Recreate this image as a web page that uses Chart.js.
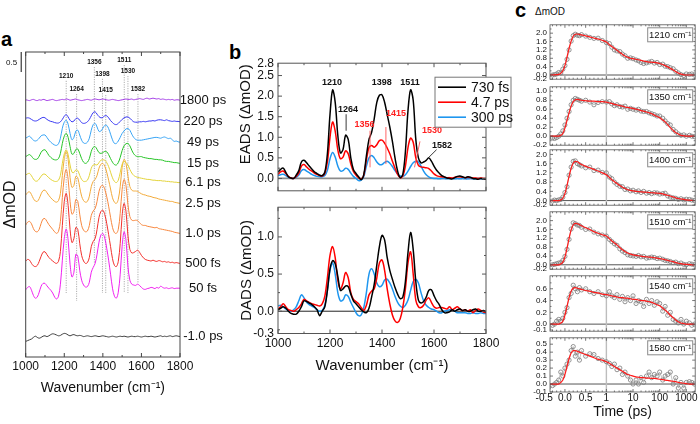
<!DOCTYPE html>
<html>
<head>
<meta charset="utf-8">
<title>Transient IR spectra, EADS/DADS and kinetics</title>
<script src="https://cdn.jsdelivr.net/npm/chart.js@4.4.1/dist/chart.umd.min.js"></script>
<style>
  html, body { margin: 0; padding: 0; background: #fff; }
  body { width: 700px; height: 424px; position: relative; overflow: hidden; font-family: "Liberation Sans", Arial, sans-serif; }
  .pane { position: absolute; }
  .pane canvas { display: block; }
  .tag { position: absolute; font-weight: bold; font-size: 20px; line-height: 20px; color: #000; }
  .unit { position: absolute; font-size: 10px; color: #111; }
</style>
</head>
<body>
<div class="tag" style="left:1px;top:29px">a</div>
<div class="tag" style="left:229px;top:42px">b</div>
<div class="tag" style="left:515px;top:0px">c</div>
<div class="unit" style="left:535px;top:6px">ΔmOD</div>
<div class="pane" style="left:0;top:0"><canvas id="spectraA" width="235" height="424"></canvas></div>
<div class="pane" style="left:228px;top:52px"><canvas id="eads" width="290" height="150"></canvas></div>
<div class="pane" style="left:228px;top:196px"><canvas id="dads" width="290" height="228"></canvas></div>
<div id="kinetics"></div>

<script>
// ---------- data: wavenumber axis (cm-1) ----------
const wavenumbers = [
  1000,1010,1020,1030,1040,1050,1060,1070,1080,1090,
  1100,1110,1120,1130,1140,1150,1160,1170,1180,1190,
  1200,1210,1220,1230,1240,1250,1260,1270,1280,1290,
  1300,1310,1320,1330,1340,1350,1360,1370,1380,1390,
  1400,1410,1420,1430,1440,1450,1460,1470,1480,1490,
  1500,1510,1520,1530,1540,1550,1560,1570,1580,1590,
  1600,1610,1620,1630,1640,1650,1660,1670,1680,1690,
  1700,1710,1720,1730,1740,1750,1760,1770,1780,1790,
  1800];

// ---------- panel a: transient spectra (mOD, relative to each trace's own baseline) ----------
const aTraceLabels = ['1800 ps', '220 ps', '49 ps', '15 ps', '6.1 ps', '2.5 ps', '1.0 ps', '500 fs', '50 fs', '-1.0 ps'];
const aOffsets = [6.42, 5.88, 5.37, 4.84, 4.36, 3.84, 3.09, 2.34, 1.72, 0.51];
const aColors = ['#a33ee6', '#3838f2', '#38a4f5', '#27c427', '#e3d33a', '#f2aa3a', '#f7873e', '#f2302c', '#f022f0', '#3c3c3c'];

const a1800ps = [
  0.01,0.00,-0.01,0.01,0.02,0.00,-0.01,0.01,0.00,0.02,
  0.01,-0.01,0.00,0.01,0.02,0.00,-0.01,0.00,0.01,0.02,
  0.01,0.03,0.02,0.00,0.01,0.02,0.03,0.01,0.00,-0.01,
  0.00,0.01,0.02,0.01,0.00,0.02,0.03,0.02,0.01,0.02,
  0.03,0.02,0.01,0.00,0.01,0.02,0.01,0.00,-0.01,0.00,
  0.01,0.02,0.03,0.02,0.02,0.03,0.01,0.02,0.03,0.04,
  0.03,0.02,0.04,0.05,0.03,0.04,0.05,0.04,0.03,0.04,
  0.02,0.03,0.02,0.01,0.02,0.01,0.02,0.00,0.01,0.01,
  0.00];
const a220ps = [
  0.09,0.10,0.09,0.06,0.03,0.02,0.03,0.06,0.09,0.11,
  0.10,0.06,0.03,0.01,0.00,-0.02,-0.03,-0.03,0.00,0.06,
  0.14,0.18,0.12,0.04,0.00,0.02,0.08,0.09,0.04,-0.02,
  -0.04,-0.03,0.00,0.06,0.15,0.23,0.25,0.19,0.13,0.10,
  0.11,0.15,0.15,0.10,0.03,-0.02,-0.06,-0.07,-0.04,0.01,
  0.06,0.10,0.12,0.12,0.09,0.04,0.00,-0.01,-0.01,0.00,
  0.00,0.01,0.00,0.01,0.02,0.02,0.03,0.02,0.04,0.05,
  0.05,0.04,0.03,0.05,0.03,0.02,0.01,0.02,0.01,0.01,
  0.00];
const a49ps = [
  0.10,0.13,0.15,0.10,0.05,0.03,0.05,0.10,0.16,0.18,
  0.18,0.12,0.05,0.00,-0.04,-0.07,-0.08,-0.04,0.10,0.35,
  0.50,0.55,0.45,0.22,0.06,0.12,0.28,0.30,0.18,0.05,
  -0.02,-0.03,0.00,0.10,0.30,0.44,0.47,0.38,0.27,0.28,
  0.35,0.42,0.42,0.34,0.20,0.06,-0.03,-0.03,0.03,0.12,
  0.22,0.28,0.33,0.34,0.30,0.20,0.12,0.07,0.05,0.05,
  0.05,0.06,0.07,0.08,0.09,0.10,0.11,0.12,0.12,0.11,
  0.10,0.12,0.13,0.11,0.09,0.10,0.06,0.02,0.03,0.01,
  0.00];
const a15ps = [
  0.17,0.20,0.22,0.18,0.12,0.10,0.11,0.18,0.28,0.33,
  0.34,0.28,0.20,0.15,0.11,0.09,0.09,0.12,0.25,0.50,
  0.68,0.75,0.65,0.42,0.23,0.25,0.35,0.36,0.25,0.12,
  0.03,0.00,0.03,0.12,0.30,0.40,0.42,0.35,0.27,0.25,
  0.27,0.30,0.29,0.22,0.12,0.03,-0.03,-0.04,0.02,0.15,
  0.32,0.44,0.49,0.50,0.44,0.33,0.24,0.19,0.17,0.17,
  0.17,0.15,0.14,0.13,0.12,0.12,0.11,0.10,0.10,0.09,
  0.09,0.08,0.06,0.05,0.05,0.04,0.03,0.02,0.02,0.01,
  0.00];
const a6p1ps = [
  0.19,0.22,0.23,0.17,0.09,0.04,0.04,0.09,0.16,0.21,
  0.21,0.17,0.12,0.08,0.05,0.03,0.03,0.06,0.18,0.48,
  0.72,0.82,0.70,0.44,0.26,0.25,0.32,0.30,0.18,0.08,
  0.03,0.03,0.06,0.18,0.36,0.44,0.45,0.44,0.50,0.56,
  0.57,0.56,0.50,0.40,0.26,0.12,0.03,0.00,0.06,0.25,
  0.46,0.53,0.50,0.44,0.33,0.24,0.18,0.15,0.13,0.12,
  0.11,0.10,0.09,0.08,0.08,0.07,0.06,0.06,0.05,0.05,
  0.05,0.04,0.04,0.03,0.03,0.02,0.02,0.01,0.01,0.00,
  0.00];
const a2p5ps = [
  0.21,0.27,0.29,0.22,0.12,0.06,0.05,0.12,0.24,0.32,
  0.33,0.27,0.20,0.14,0.09,0.05,0.03,0.07,0.25,0.70,
  1.12,1.30,1.10,0.65,0.40,0.45,0.68,0.64,0.40,0.18,
  0.07,0.03,0.05,0.18,0.42,0.55,0.60,0.70,0.88,0.98,
  1.00,0.93,0.78,0.58,0.36,0.14,0.03,0.00,0.10,0.42,
  0.90,1.10,1.00,0.68,0.42,0.33,0.31,0.31,0.30,0.27,
  0.24,0.22,0.21,0.19,0.18,0.17,0.15,0.14,0.13,0.11,
  0.10,0.09,0.08,0.07,0.06,0.05,0.05,0.03,0.02,0.01,
  0.00];
const a1p0ps = [
  0.21,0.28,0.30,0.24,0.12,0.05,0.04,0.10,0.25,0.36,
  0.37,0.30,0.22,0.16,0.10,0.04,0.00,0.05,0.30,0.90,
  1.40,1.60,1.35,0.80,0.48,0.55,0.85,0.80,0.48,0.20,
  0.08,0.04,0.06,0.20,0.45,0.56,0.62,0.80,1.05,1.18,
  1.20,1.10,0.92,0.68,0.40,0.15,0.02,0.00,0.10,0.50,
  1.10,1.35,1.20,0.72,0.42,0.33,0.32,0.33,0.32,0.27,
  0.22,0.20,0.20,0.18,0.17,0.16,0.15,0.14,0.15,0.12,
  0.11,0.10,0.09,0.08,0.07,0.06,0.05,0.03,0.02,0.01,
  0.00];
const a500fs = [
  0.06,0.10,0.08,0.00,-0.06,-0.08,-0.05,0.05,0.18,0.28,
  0.29,0.22,0.15,0.10,0.06,0.02,0.00,0.05,0.30,0.95,
  1.55,1.75,1.45,0.85,0.52,0.62,0.90,0.85,0.50,0.20,
  0.06,0.00,0.02,0.15,0.42,0.55,0.62,0.85,1.15,1.30,
  1.33,1.22,1.00,0.72,0.42,0.12,-0.05,-0.08,0.05,0.50,
  1.20,1.50,1.30,0.70,0.35,0.26,0.27,0.30,0.33,0.28,
  0.20,0.14,0.10,0.08,0.07,0.06,0.08,0.06,0.05,0.07,
  0.06,0.04,0.05,0.03,0.04,0.02,0.03,0.01,0.02,0.01,
  0.00];
const a50fs = [
  -0.04,0.02,0.04,-0.05,-0.18,-0.25,-0.22,-0.10,0.05,0.12,
  0.12,0.06,0.00,-0.05,-0.12,-0.22,-0.27,-0.20,0.10,0.70,
  1.25,1.48,1.20,0.60,0.28,0.40,0.85,0.80,0.45,0.20,
  0.08,0.03,0.04,0.15,0.40,0.52,0.62,0.85,1.15,1.33,
  1.37,1.25,1.00,0.70,0.35,0.00,-0.20,-0.25,-0.10,0.35,
  1.05,1.41,1.20,0.55,0.20,0.10,0.08,0.07,0.10,0.07,
  0.02,-0.02,-0.03,-0.01,0.00,0.02,0.01,-0.01,0.02,0.00,
  0.05,0.02,0.00,0.01,-0.01,0.00,0.01,-0.01,0.00,0.00,
  0.00];
const aMinus1ps = [
  -0.12,-0.10,-0.08,-0.06,-0.02,0.01,-0.02,-0.04,-0.02,0.01,
  0.02,0.00,0.02,0.05,0.07,0.06,0.04,0.02,0.03,0.06,
  0.08,0.07,0.04,0.02,0.04,0.05,0.03,0.02,0.03,0.02,
  0.00,0.01,0.02,0.01,0.00,0.01,0.02,0.01,0.00,0.01,
  0.02,0.01,0.00,-0.01,0.00,0.01,0.00,-0.01,0.00,0.01,
  0.00,0.01,0.00,-0.01,0.00,0.01,0.00,0.00,0.01,0.00,
  -0.01,0.00,0.01,0.00,0.00,0.01,0.00,-0.01,0.00,0.01,
  0.02,0.00,0.01,0.00,0.01,0.02,0.00,0.01,0.02,0.01,
  0.00];
const aSpectra = [a1800ps, a220ps, a49ps, a15ps, a6p1ps, a2p5ps, a1p0ps, a500fs, a50fs, aMinus1ps];

const aPeakWn = [1210, 1264, 1356, 1398, 1415, 1511, 1530, 1582];
const aPeakLabelAt = [7.03, 6.70, 7.375, 7.08, 6.675, 7.425, 7.15, 6.70];
const aPeakLineEnd = [1.6, 1.4, 2.35, 1.6, 1.6, 1.6, 1.6, 1.85];

// ---------- panel b: EADS and DADS (mOD) ----------
const compLabels = ['730 fs', '4.7 ps', '300 ps'];
const compColors = ['#000000', '#ff0000', '#1e96ef'];

const eads730fs = [
  0.15,0.22,0.25,0.15,0.04,0.01,0.00,0.08,0.19,0.40,
  0.44,0.38,0.30,0.23,0.16,0.12,0.08,0.07,0.15,0.60,
  1.55,2.15,1.85,1.05,0.62,0.70,1.05,0.95,0.50,0.22,
  0.12,0.04,-0.03,0.10,0.55,0.95,1.12,1.45,1.85,2.02,
  2.03,1.85,1.55,1.25,0.90,0.50,0.18,0.02,0.10,0.65,
  1.65,2.15,1.90,0.95,0.50,0.38,0.40,0.44,0.50,0.42,
  0.30,0.20,0.13,0.07,0.04,0.01,0.00,-0.01,0.02,0.05,
  0.06,0.04,0.02,0.04,0.03,0.00,-0.01,-0.02,0.00,-0.01,
  -0.02];
const eads4p7ps = [
  0.10,0.16,0.18,0.12,0.05,0.01,0.00,0.05,0.13,0.30,
  0.34,0.28,0.22,0.18,0.13,0.10,0.07,0.06,0.12,0.40,
  1.00,1.37,1.15,0.70,0.48,0.52,0.67,0.60,0.35,0.17,
  0.08,0.02,-0.02,0.08,0.45,0.75,0.80,0.76,0.82,0.92,
  0.93,0.86,0.74,0.60,0.42,0.25,0.10,0.02,0.06,0.30,
  0.75,0.98,0.88,0.50,0.32,0.28,0.27,0.26,0.24,0.18,
  0.11,0.07,0.05,0.04,0.03,0.02,0.02,0.01,0.03,0.04,
  0.04,0.03,0.02,0.03,0.02,0.01,0.01,0.00,0.01,0.00,
  0.00];
const eads300ps = [
  0.07,0.09,0.10,0.07,0.03,0.01,0.00,0.03,0.08,0.19,
  0.22,0.18,0.14,0.10,0.07,0.05,0.04,0.04,0.07,0.20,
  0.48,0.63,0.52,0.30,0.18,0.19,0.25,0.22,0.13,0.05,
  0.00,-0.05,-0.04,0.05,0.30,0.50,0.56,0.50,0.40,0.34,
  0.34,0.39,0.42,0.37,0.29,0.19,0.11,0.06,0.05,0.09,
  0.18,0.29,0.38,0.42,0.40,0.30,0.18,0.09,0.04,0.01,
  0.00,0.00,-0.01,0.00,0.00,-0.01,0.00,0.00,-0.01,0.00,
  -0.01,0.00,-0.01,-0.01,0.00,-0.01,-0.01,0.00,-0.01,-0.01,
  -0.01];
const dads730fs = [
  0.02,0.04,0.06,0.04,0.00,-0.03,-0.04,-0.04,0.00,0.06,
  0.14,0.13,0.11,0.09,0.06,0.02,-0.06,0.00,0.06,0.28,
  0.57,0.68,0.64,0.47,0.28,0.30,0.34,0.33,0.23,0.14,
  0.10,0.06,0.02,-0.01,-0.02,0.04,0.19,0.36,0.62,0.87,
  1.02,0.96,0.72,0.55,0.43,0.32,0.23,0.17,0.19,0.40,
  0.79,1.06,0.83,0.40,0.15,0.11,0.13,0.19,0.28,0.29,
  0.21,0.14,0.09,0.02,-0.02,-0.02,-0.01,0.02,0.00,0.02,
  0.03,0.01,0.02,0.00,0.00,0.02,0.03,0.00,0.00,0.01,
  -0.01];
const dads4p7ps = [
  0.03,0.06,0.10,0.06,0.02,0.01,0.00,0.02,0.05,0.10,
  0.16,0.14,0.12,0.10,0.09,0.08,0.07,0.10,0.20,0.45,
  0.75,0.87,0.72,0.42,0.30,0.38,0.52,0.45,0.25,0.16,
  0.13,0.10,0.05,0.01,0.08,0.22,0.27,0.30,0.45,0.65,
  0.69,0.55,0.30,0.10,-0.05,-0.13,-0.15,-0.10,0.05,0.30,
  0.65,0.80,0.50,0.15,0.06,0.05,0.08,0.15,0.18,0.12,
  0.06,0.04,0.05,0.05,0.04,0.03,0.06,0.02,0.04,0.06,
  0.03,0.01,0.02,0.00,0.02,-0.02,0.01,0.03,0.01,-0.01,
  -0.02];
const dads300ps = [
  0.07,0.08,0.06,0.03,0.01,0.00,0.02,0.06,0.14,0.22,
  0.18,0.12,0.09,0.07,0.05,0.02,0.00,0.01,0.08,0.28,
  0.55,0.65,0.50,0.25,0.14,0.15,0.22,0.20,0.12,0.05,
  -0.02,-0.06,-0.05,0.05,0.25,0.50,0.57,0.50,0.38,0.33,
  0.35,0.42,0.43,0.38,0.30,0.20,0.12,0.07,0.05,0.08,
  0.15,0.28,0.40,0.43,0.38,0.25,0.14,0.08,0.05,0.03,
  0.02,0.00,-0.02,-0.02,0.00,0.01,0.02,0.02,0.00,-0.02,
  -0.02,-0.02,-0.02,-0.03,-0.03,-0.02,-0.03,-0.03,-0.02,-0.03,
  -0.03];

const eadsNoteText = ['1210', '1264', '1398', '1511', '1356', '1415', '1530', '1582'];
const eadsNoteWn = [1208, 1269, 1399, 1508, 1333, 1454, 1592, 1631];
const eadsNoteVal = [2.34, 1.68, 2.34, 2.34, 1.31, 1.58, 1.16, 0.81];
const eadsNoteRed = [false, false, false, false, true, true, true, false];
// leader lines: [wn1, val1, wn2, val2, red?]
const eadsLeaders = [
  [1262, 1.56, 1262, 1.16, false],
  [1354, 1.16, 1354, 0.27, true],
  [1415, 1.25, 1415, 0.35, true],
  [1546, 0.90, 1525, 0.27, true],
  [1610, 0.70, 1578, 0.50, false]];

// ---------- panel c: kinetics ----------
const cTimes = [
  -0.5,-0.4,-0.3,-0.25,-0.2,-0.15,-0.1,-0.05,0,0.05,0.1,0.15,0.2,0.25,0.3,0.35,0.4,0.5,0.6,0.7,0.8,0.9,1,
  1.3,1.6,2,2.5,3.2,4,5,6.3,8,10,
  13,16,20,25,32,40,50,63,80,100,
  130,160,200,250,320,400,500,630,800,1000,
  1300,1600,2000];
const cProbes = ['1210', '1350', '1400', '1510', '1540', '1580'];

const c1210 = [-0.02,-0.03,0.0,0.02,0.05,0.12,0.1,0.28,0.45,0.75,1.2,1.62,1.88,1.95,1.9,1.88,1.93,1.86,1.8,1.75,1.76,1.65,1.55,
  1.5,1.33,1.2,1.15,1.12,1.0,0.92,0.8,0.82,0.78,
  0.72,0.68,0.6,0.55,0.58,0.62,0.65,0.57,0.6,0.5,
  0.52,0.42,0.4,0.35,0.3,0.18,0.1,0.02,-0.02,0.05,
  0.03,0.05,0.0];
const f1210 = [0.01,0.01,0.01,0.01,0.02,0.03,0.08,0.2,0.45,0.85,1.28,1.62,1.85,1.95,1.96,1.94,1.92,1.87,1.82,1.77,1.72,1.66,1.58,
  1.45,1.36,1.27,1.18,1.08,0.99,0.91,0.85,0.8,0.78,
  0.75,0.73,0.7,0.67,0.64,0.62,0.61,0.6,0.58,0.55,
  0.5,0.45,0.39,0.32,0.24,0.16,0.09,0.04,0.01,0,
  0,0,0];
const c1350 = [-0.02,-0.05,-0.04,-0.05,-0.03,0.0,0.05,0.12,0.25,0.4,0.55,0.7,0.8,0.84,0.82,0.8,0.78,0.8,0.76,0.7,0.75,0.77,0.76,
  0.77,0.72,0.68,0.7,0.66,0.65,0.67,0.6,0.62,0.6,
  0.58,0.6,0.56,0.55,0.55,0.52,0.5,0.48,0.45,0.45,
  0.4,0.34,0.28,0.25,0.15,0.1,0.05,0.02,0.03,0.0,
  0.02,0.0,-0.01];
const f1350 = [0,0,0,0,0,0,0.02,0.06,0.18,0.35,0.52,0.67,0.77,0.81,0.82,0.81,0.8,0.79,0.78,0.78,0.77,0.77,0.76,
  0.74,0.73,0.71,0.7,0.68,0.67,0.65,0.64,0.63,0.62,
  0.6,0.59,0.57,0.56,0.54,0.52,0.5,0.47,0.44,0.41,
  0.36,0.32,0.26,0.19,0.13,0.08,0.05,0.02,0.01,0,
  0,0,0];
const c1400 = [-0.03,0.0,-0.02,0.02,0.0,0.03,0.05,0.15,0.35,0.6,1.1,1.45,1.7,1.72,1.6,1.55,1.5,1.42,1.45,1.3,1.32,1.22,1.2,
  1.02,0.95,0.8,0.7,0.62,0.6,0.48,0.5,0.42,0.45,
  0.38,0.42,0.35,0.4,0.32,0.35,0.3,0.34,0.33,0.28,
  0.3,0.32,0.2,0.15,0.12,0.1,0.05,0.08,0.03,0.06,
  0.05,0.02,0.0];
const f1400 = [0,0,0,0,0,0,0.03,0.1,0.3,0.65,1.05,1.4,1.62,1.7,1.68,1.62,1.56,1.48,1.42,1.35,1.28,1.2,1.12,
  1.0,0.9,0.82,0.74,0.65,0.58,0.52,0.47,0.44,0.42,
  0.4,0.39,0.38,0.37,0.36,0.35,0.34,0.33,0.32,0.31,
  0.29,0.26,0.23,0.2,0.16,0.12,0.09,0.07,0.05,0.03,
  0.02,0.01,0];
const c1510 = [-0.05,-0.03,0.0,0.02,0.05,0.08,0.1,0.2,0.38,0.7,1.15,1.62,1.9,1.86,1.8,1.78,1.7,1.6,1.62,1.48,1.4,1.35,1.3,
  1.15,1.05,0.95,0.88,0.72,0.62,0.55,0.45,0.42,0.4,
  0.38,0.42,0.36,0.38,0.3,0.32,0.35,0.33,0.28,0.3,
  0.25,0.2,0.18,0.15,0.1,0.12,0.05,0.08,0.02,0.0,
  0.05,0.03,0.0];
const f1510 = [0,0,0,0,0,0,0.04,0.12,0.35,0.75,1.2,1.58,1.8,1.88,1.86,1.82,1.77,1.68,1.6,1.5,1.43,1.36,1.3,
  1.18,1.08,0.99,0.9,0.78,0.68,0.6,0.53,0.48,0.45,
  0.43,0.41,0.39,0.37,0.36,0.35,0.34,0.32,0.3,0.28,
  0.26,0.23,0.2,0.17,0.14,0.1,0.07,0.05,0.03,0.02,
  0.01,0,0];
const c1540 = [-0.05,-0.08,-0.02,0.0,0.05,0.08,0.05,0.1,0.2,0.28,0.45,0.52,0.66,0.6,0.55,0.62,0.58,0.6,0.55,0.52,0.55,0.5,0.48,
  0.55,0.48,0.45,0.5,0.42,0.47,0.38,0.45,0.4,0.48,
  0.35,0.4,0.38,0.3,0.42,0.35,0.4,0.32,0.38,0.35,
  0.22,0.3,0.15,0.2,0.08,0.05,0.02,0.08,0.0,0.05,
  0.02,-0.02,0.0];
const f1540 = [0,0,0,0,0,0,0.02,0.05,0.15,0.3,0.45,0.56,0.61,0.62,0.61,0.6,0.59,0.57,0.56,0.54,0.53,0.51,0.5,
  0.49,0.48,0.47,0.46,0.45,0.45,0.44,0.44,0.43,0.42,
  0.42,0.41,0.4,0.4,0.39,0.38,0.37,0.35,0.33,0.31,
  0.27,0.24,0.2,0.15,0.11,0.07,0.04,0.02,0.01,0,
  0,0,0];
const c1580 = [-0.08,-0.05,-0.02,0.0,0.02,0.05,0.15,0.1,0.2,0.25,0.3,0.42,0.47,0.35,0.4,0.3,0.42,0.35,0.38,0.37,0.32,0.3,0.28,
  0.26,0.22,0.25,0.18,0.2,0.12,0.15,0.1,0.05,0.0,
  0.05,0.0,0.08,0.02,0.1,0.15,0.08,0.12,0.1,0.15,
  0.05,0.1,0.12,0.15,0.0,0.08,-0.05,0.02,-0.05,0.02,
  0.03,0.02,0.0];
const f1580 = [0,0,0,0,0,0,0.02,0.05,0.12,0.22,0.32,0.39,0.42,0.42,0.41,0.4,0.39,0.37,0.35,0.33,0.31,0.3,0.28,
  0.26,0.24,0.22,0.2,0.18,0.16,0.14,0.12,0.11,0.1,
  0.09,0.085,0.08,0.08,0.075,0.075,0.07,0.07,0.065,0.06,
  0.055,0.05,0.045,0.04,0.035,0.03,0.02,0.015,0.01,0.005,
  0,0,0];
const cMeasured = [c1210, c1350, c1400, c1510, c1540, c1580];
const cFitted = [f1210, f1350, f1400, f1510, f1540, f1580];

const cYMin = [-0.2, -0.2, -0.2, -0.2, -0.12, -0.1];
const cYMax = [2.4, 1.1, 2.2, 2.4, 0.82, 0.58];
const cYTicks = [
  [-0.2, 0, 0.4, 0.8, 1.2, 1.6, 2.0],
  [-0.2, 0, 0.2, 0.4, 0.6, 0.8, 1.0],
  [-0.2, 0, 0.4, 0.8, 1.2, 1.6, 2.0],
  [-0.2, 0, 0.4, 0.8, 1.2, 1.6, 2.0],
  [-0.1, 0, 0.2, 0.4, 0.6],
  [-0.1, 0, 0.1, 0.2, 0.3, 0.4, 0.5]];
const cYMinor = [
  [0.2, 0.6, 1.0, 1.4, 1.8, 2.2],
  [-0.1, 0.1, 0.3, 0.5, 0.7, 0.9],
  [0.2, 0.6, 1.0, 1.4, 1.8],
  [0.2, 0.6, 1.0, 1.4, 1.8, 2.2],
  [0.1, 0.3, 0.5, 0.7],
  []];
const cTimeTicks = [-0.5, 0, 0.5, 1, 10, 100, 1000];
const cTimeMinor = [-0.3, -0.2, -0.1, 0.1, 0.2, 0.3, 0.4, 0.6, 0.7, 0.8, 0.9,
  2, 3, 4, 5, 6, 7, 8, 9, 20, 30, 40, 50, 60, 70, 80, 90,
  200, 300, 400, 500, 600, 700, 800, 900, 2000];

// layout of the six kinetic panels (page pixels)
const cTop = [22.5, 84.5, 147.5, 209.5, 273.5, 336];
const cBottom = [80.5, 146.5, 206, 270.5, 332.5, 392];

// ---------- chart setup ----------
Chart.defaults.animation = false;
Chart.defaults.events = [];
Chart.defaults.font.family = '"Liberation Sans", Arial, sans-serif';
Chart.defaults.color = '#111';
Chart.defaults.plugins.legend.display = false;
Chart.defaults.plugins.tooltip.enabled = false;

// linear up to 1 ps, logarithmic after it
const LIN_END = 1;
const DECADE_U = 27 / 42;
class BrokenTimeScale extends Chart.Scale {
  static id = 'brokentime';
  static defaults = {};
  determineDataLimits() {
    this.min = this.options.min;
    this.max = this.options.max;
  }
  buildTicks() {
    return cTimeTicks.map(value => ({ value }));
  }
  _calculatePadding() {
    this.paddingLeft = this.paddingRight = this.paddingTop = this.paddingBottom = 0;
  }
  toU(v) {
    return v <= LIN_END ? v : LIN_END + Math.log10(v / LIN_END) * DECADE_U;
  }
  getPixelForValue(v) {
    const u0 = this.toU(this.min), u1 = this.toU(this.max);
    return this.getPixelForDecimal((this.toU(v) - u0) / (u1 - u0));
  }
  getValueForPixel(p) {
    const u0 = this.toU(this.min), u1 = this.toU(this.max);
    const u = u0 + this.getDecimalForPixel(p) * (u1 - u0);
    return u <= LIN_END ? u : LIN_END * Math.pow(10, (u - LIN_END) / DECADE_U);
  }
}
Chart.register(BrokenTimeScale);

const fixedTicks = vals => scale => { scale.ticks = vals.map(value => ({ value })); };
const noGrid = { display: false, drawTicks: false };
const noBorder = { display: false };

// box, inward ticks, zero line and vertical guides
function makeFrame(o) {
  return {
    id: 'frame',
    beforeDatasetsDraw(chart) {
      const { ctx, chartArea: a, scales: { x, y } } = chart;
      ctx.save();
      if (o.zero) {
        const py = y.getPixelForValue(0);
        ctx.strokeStyle = o.zero.color; ctx.lineWidth = o.zero.width;
        ctx.beginPath(); ctx.moveTo(a.left, py); ctx.lineTo(a.right, py); ctx.stroke();
      }
      (o.vlines || []).forEach(vl => {
        const px = x.getPixelForValue(vl.at);
        ctx.strokeStyle = vl.color; ctx.lineWidth = vl.width;
        ctx.beginPath(); ctx.moveTo(px, a.top); ctx.lineTo(px, a.bottom); ctx.stroke();
      });
      ctx.restore();
    },
    afterDatasetsDraw(chart) {
      const { ctx, chartArea: a, scales: { x, y } } = chart;
      ctx.save();
      ctx.strokeStyle = o.color; ctx.lineWidth = o.width;
      ctx.beginPath();
      const xt = (vals, len) => vals.forEach(v => {
        const p = x.getPixelForValue(v);
        if (p < a.left - 0.5 || p > a.right + 0.5) return;
        ctx.moveTo(p, a.bottom); ctx.lineTo(p, a.bottom - len);
        ctx.moveTo(p, a.top); ctx.lineTo(p, a.top + len);
      });
      const yt = (vals, len) => vals.forEach(v => {
        const p = y.getPixelForValue(v);
        if (p < a.top - 0.5 || p > a.bottom + 0.5) return;
        ctx.moveTo(a.left, p); ctx.lineTo(a.left + len, p);
        ctx.moveTo(a.right, p); ctx.lineTo(a.right - len, p);
      });
      xt(o.xMajor || [], o.major); xt(o.xMinor || [], o.minor);
      yt(o.yMajor || [], o.major); yt(o.yMinor || [], o.minor);
      ctx.stroke();
      ctx.strokeRect(a.left, a.top, a.right - a.left, a.bottom - a.top);
      ctx.restore();
    }
  };
}

// ---------- panel a ----------
const spectraDecor = {
  id: 'spectraDecor',
  beforeDatasetsDraw(chart) {
    const { ctx, scales: { x, y } } = chart;
    ctx.save();
    ctx.strokeStyle = '#9a9a9a'; ctx.lineWidth = 0.8; ctx.setLineDash([1.2, 1.2]);
    aPeakWn.forEach((wn, i) => {
      const px = x.getPixelForValue(wn);
      ctx.beginPath();
      ctx.moveTo(px, y.getPixelForValue(aPeakLabelAt[i]) + 5);
      ctx.lineTo(px, y.getPixelForValue(aPeakLineEnd[i]));
      ctx.stroke();
    });
    ctx.restore();
  },
  afterDraw(chart) {
    const { ctx, chartArea: a, scales: { x, y } } = chart;
    ctx.save();
    ctx.fillStyle = '#111';
    ctx.textAlign = 'center'; ctx.textBaseline = 'middle';
    ctx.font = 'bold 6.5px "Liberation Sans", Arial, sans-serif';
    aPeakWn.forEach((wn, i) => ctx.fillText(String(wn), x.getPixelForValue(wn), y.getPixelForValue(aPeakLabelAt[i])));
    ctx.font = '13px "Liberation Sans", Arial, sans-serif';
    aTraceLabels.forEach((t, i) => ctx.fillText(t, a.right + 23, y.getPixelForValue(aOffsets[i])));
    // 0.5 mOD scale bar
    const bx = a.left - 4.5;
    const y0 = y.getPixelForValue(y.max), y1 = y.getPixelForValue(y.max - 0.5);
    ctx.strokeStyle = '#111'; ctx.lineWidth = 1;
    ctx.beginPath(); ctx.moveTo(bx, y0); ctx.lineTo(bx, y1); ctx.stroke();
    ctx.font = '8px "Liberation Sans", Arial, sans-serif';
    ctx.textAlign = 'right';
    ctx.fillText('0.5', bx - 4, (y0 + y1) / 2 + 1);
    ctx.restore();
  }
};

new Chart(document.getElementById('spectraA'), {
  type: 'line',
  data: {
    datasets: aSpectra.map((vals, i) => ({
      data: vals.map((v, k) => ({ x: wavenumbers[k], y: v + aOffsets[i] })),
      borderColor: aColors[i], borderWidth: 1, pointRadius: 0, tension: 0.35
    }))
  },
  options: {
    responsive: false, devicePixelRatio: 1,
    layout: { padding: { left: 0, right: 55, top: 52, bottom: 27 } },
    scales: {
      x: {
        type: 'linear', min: 1000, max: 1800,
        afterBuildTicks: fixedTicks([1000, 1200, 1400, 1600, 1800]),
        ticks: { font: { size: 12 }, padding: 2, maxRotation: 0, autoSkip: false, callback: v => String(v) },
        grid: noGrid, border: noBorder,
        title: { display: true, text: 'Wavenumber (cm⁻¹)', font: { size: 14 }, padding: 0 },
        afterFit: s => { s.height = 40; }
      },
      y: {
        type: 'linear', min: 0, max: 7.625,
        ticks: { display: false }, grid: noGrid, border: noBorder,
        title: { display: true, text: 'ΔmOD', font: { size: 16 }, padding: { top: 1, bottom: 0 } },
        afterFit: s => { s.width = 25.7; }
      }
    }
  },
  plugins: [makeFrame({
    color: '#444', width: 1, major: 4, minor: 2,
    xMajor: [1000, 1200, 1400, 1600, 1800], xMinor: [1100, 1300, 1500, 1700]
  }), spectraDecor]
});

// ---------- panel b ----------
const wnMajor = [1000, 1200, 1400, 1600, 1800];
const wnMinor = [1100, 1300, 1500, 1700];
const compDatasets = series => series.map((vals, i) => ({
  data: vals.map((v, k) => ({ x: wavenumbers[k], y: v })),
  borderColor: compColors[i], borderWidth: 1.5, pointRadius: 0, tension: 0.35
}));

const eadsDecor = {
  id: 'eadsDecor',
  afterDraw(chart) {
    const { ctx, chartArea: a, scales: { x, y } } = chart;
    ctx.save();
    // axis title, set a little above the axis centre as in the figure
    ctx.translate(18, a.top + 51);
    ctx.rotate(-Math.PI / 2);
    ctx.fillStyle = '#111';
    ctx.font = '15px "Liberation Sans", Arial, sans-serif';
    ctx.textAlign = 'center'; ctx.textBaseline = 'middle';
    ctx.fillText('EADS (ΔmOD)', 0, 0);
    ctx.restore();

    ctx.save();
    ctx.lineWidth = 0.9;
    eadsLeaders.forEach(([w1, v1, w2, v2, red]) => {
      ctx.strokeStyle = red ? '#ff5555' : '#222';
      ctx.beginPath();
      ctx.moveTo(x.getPixelForValue(w1), y.getPixelForValue(v1));
      ctx.lineTo(x.getPixelForValue(w2), y.getPixelForValue(v2));
      ctx.stroke();
    });
    ctx.font = 'bold 9px "Liberation Sans", Arial, sans-serif';
    ctx.textAlign = 'center'; ctx.textBaseline = 'middle';
    eadsNoteText.forEach((t, i) => {
      ctx.fillStyle = eadsNoteRed[i] ? '#ff2020' : '#111';
      ctx.fillText(t, x.getPixelForValue(eadsNoteWn[i]), y.getPixelForValue(eadsNoteVal[i]));
    });
    // legend box
    const lx = a.right - 51, ly = a.top + 14, lw = 76, lh = 50;
    ctx.fillStyle = '#fff'; ctx.fillRect(lx, ly, lw, lh);
    ctx.strokeStyle = '#777'; ctx.lineWidth = 1; ctx.strokeRect(lx, ly, lw, lh);
    ctx.font = '14px "Liberation Sans", Arial, sans-serif';
    ctx.textAlign = 'left';
    compLabels.forEach((t, i) => {
      const ry = ly + 10 + i * 15;
      ctx.strokeStyle = compColors[i]; ctx.lineWidth = 1.6;
      ctx.beginPath(); ctx.moveTo(lx + 3, ry); ctx.lineTo(lx + 31, ry); ctx.stroke();
      ctx.fillStyle = '#111'; ctx.fillText(t, lx + 36, ry + 1);
    });
    ctx.restore();
  }
};

new Chart(document.getElementById('eads'), {
  type: 'line',
  data: { datasets: compDatasets([eads730fs, eads4p7ps, eads300ps]) },
  options: {
    responsive: false, devicePixelRatio: 1,
    layout: { padding: { left: 0, right: 32, top: 10, bottom: 5.7 } },
    scales: {
      x: { type: 'linear', min: 1000, max: 1800, display: false },
      y: {
        type: 'linear', min: -0.3, max: 2.8,
        afterBuildTicks: fixedTicks([0, 0.5, 1, 1.5, 2, 2.5, 2.8]),
        ticks: { font: { size: 12 }, padding: 4, autoSkip: false, callback: v => v.toFixed(1) },
        grid: noGrid, border: noBorder,
        afterFit: s => { s.width = 50; }
      }
    }
  },
  plugins: [makeFrame({
    color: '#555', width: 1, major: 4, minor: 2,
    xMajor: wnMajor, xMinor: wnMinor,
    yMajor: [0, 0.5, 1, 1.5, 2, 2.5], yMinor: [0.25, 0.75, 1.25, 1.75, 2.25],
    zero: { color: '#8c8c8c', width: 1.8 }
  }), eadsDecor]
});

new Chart(document.getElementById('dads'), {
  type: 'line',
  data: { datasets: compDatasets([dads730fs, dads4p7ps, dads300ps]) },
  options: {
    responsive: false, devicePixelRatio: 1,
    layout: { padding: { left: 0, right: 32, top: 4, bottom: 49.5 } },
    scales: {
      x: {
        type: 'linear', min: 1000, max: 1800,
        afterBuildTicks: fixedTicks(wnMajor),
        ticks: { font: { size: 12 }, padding: 3, maxRotation: 0, autoSkip: false, callback: v => String(v) },
        grid: noGrid, border: noBorder,
        title: { display: true, text: 'Wavenumber (cm⁻¹)', font: { size: 15 }, padding: 0 },
        afterFit: s => { s.height = 41; }
      },
      y: {
        type: 'linear', min: -0.3, max: 1.4,
        afterBuildTicks: fixedTicks([-0.3, 0, 0.5, 1.0]),
        ticks: { font: { size: 12 }, padding: 4, autoSkip: false, callback: v => v.toFixed(1) },
        grid: noGrid, border: noBorder,
        title: { display: true, text: 'DADS (ΔmOD)', font: { size: 15 }, padding: { top: 10, bottom: 0 } },
        afterFit: s => { s.width = 50; }
      }
    }
  },
  plugins: [makeFrame({
    color: '#555', width: 1, major: 4, minor: 2,
    xMajor: wnMajor, xMinor: wnMinor,
    yMajor: [0, 0.5, 1.0], yMinor: [-0.25, 0.25, 0.75, 1.25],
    zero: { color: '#222', width: 1 }
  })]
});

// ---------- panel c ----------
function probeBox(label) {
  return {
    id: 'probeBox',
    afterDraw(chart) {
      const { ctx, chartArea: a } = chart;
      const w = 46, h = 15, bx = a.right - 2 - w, by = a.top + 2.5;
      ctx.save();
      ctx.fillStyle = '#fff'; ctx.fillRect(bx, by, w, h);
      ctx.strokeStyle = '#8a8a8a'; ctx.lineWidth = 1; ctx.strokeRect(bx + 0.5, by + 0.5, w - 1, h - 1);
      ctx.fillStyle = '#111'; ctx.textBaseline = 'middle'; ctx.textAlign = 'center';
      ctx.font = '9.5px "Liberation Sans", Arial, sans-serif';
      ctx.fillText(label + ' cm⁻¹', bx + w / 2, by + h / 2 + 0.5);
      ctx.restore();
    }
  };
}

const holder = document.getElementById('kinetics');
cProbes.forEach((probe, i) => {
  const last = i === cProbes.length - 1;
  const pad = 6;
  const top = cTop[i] - pad;
  const height = last ? 424 - top : cBottom[i] - cTop[i] + 2 * pad;
  const div = document.createElement('div');
  div.className = 'pane';
  div.style.left = '525px';
  div.style.top = top + 'px';
  const canvas = document.createElement('canvas');
  canvas.width = 175; canvas.height = Math.round(height);
  div.appendChild(canvas);
  holder.appendChild(div);

  const xScale = {
    type: 'brokentime', min: -0.36, max: 2150, display: last,
    ticks: { font: { size: 10 }, padding: 0, maxRotation: 0, autoSkip: false,
             callback: v => (v < 1 ? v.toFixed(1) : String(v)) },
    grid: noGrid, border: noBorder,
    title: { display: true, text: 'Time (ps)', font: { size: 14 }, padding: 0 }
  };
  if (last) xScale.afterFit = s => { s.height = 28.4; };

  new Chart(canvas, {
    type: 'line',
    data: {
      datasets: [
        { data: cTimes.map((t, k) => ({ x: t, y: cFitted[i][k] })),
          borderColor: '#ff1a1a', borderWidth: 1.2, pointRadius: 0, cubicInterpolationMode: 'monotone' },
        { data: cTimes.map((t, k) => ({ x: t, y: cMeasured[i][k] })),
          borderColor: '#9a9a9a', borderWidth: 0.6, tension: 0,
          pointRadius: 2.1, pointBorderWidth: 0.8, pointBorderColor: '#7a7a7a', pointBackgroundColor: 'rgba(255,255,255,0)' }
      ]
    },
    options: {
      responsive: false, devicePixelRatio: 1,
      layout: { padding: { left: 0, right: 3, top: pad, bottom: last ? (424 - cBottom[i] - 28.4) : pad } },
      scales: {
        x: xScale,
        y: {
          type: 'linear', min: cYMin[i], max: cYMax[i],
          afterBuildTicks: fixedTicks(cYTicks[i]),
          ticks: { font: { size: 8 }, padding: 3, autoSkip: false, callback: v => v.toFixed(1) },
          grid: noGrid, border: noBorder,
          afterFit: s => { s.width = 25; }
        }
      }
    },
    plugins: [makeFrame({
      color: '#555', width: 0.8, major: 3, minor: 1.5,
      xMajor: cTimeTicks, xMinor: cTimeMinor,
      yMajor: cYTicks[i], yMinor: cYMinor[i],
      zero: { color: '#555', width: 1 },
      vlines: [{ at: 1, color: '#bdbdbd', width: 1.4 }]
    }), probeBox(probe)]
  });
});
</script>
</body>
</html>
